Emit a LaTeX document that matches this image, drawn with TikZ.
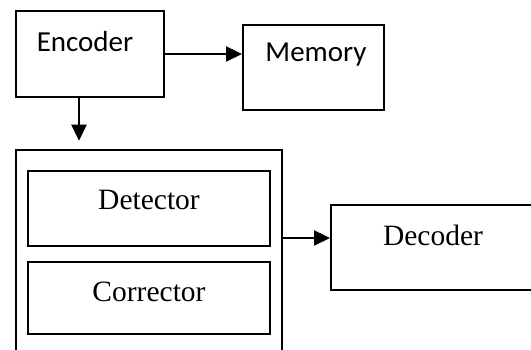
\documentclass[tikz,border=0pt]{standalone}
\usepackage{fontspec}
\setmainfont{Liberation Serif}
\newfontfamily\calib{Carlito}
\usepackage{tikz}
\usetikzlibrary{calc, arrows.meta, positioning}

\begin{document}
\begin{tikzpicture}[x=1pt, y=1pt,
    >={Triangle[length=16pt, width=15pt]},
    box/.style={draw, line width=2pt, inner sep=0pt},
    outbox/.style={draw, line width=2.5pt, inner sep=0pt},
    arr/.style={->, line width=2.3pt},
    sanstxt/.style={font=\calib\fontsize{29}{32}\selectfont},
    seriftxt/.style={font=\fontsize{29.5}{33}\selectfont}]
    % Khung ảnh
    \useasboundingbox (0,0) rectangle (531,350);
    \clip (0,0) rectangle (531,350);

    % Các khối chính
    \node[box, minimum width=148pt, minimum height=86pt] (enc) at (90,296) {};
    \node[box, minimum width=141pt, minimum height=85pt] (mem) at (313.5,282.5) {};
    \node[outbox, minimum width=266pt, minimum height=240pt] (outer) at (149,80) {};
    \node[box, minimum width=242pt, minimum height=75pt] (det) at (149,141.5) {};
    \node[box, minimum width=242pt, minimum height=72pt] (cor) at (149,52) {};
    \node[box, minimum width=240pt, minimum height=85pt] (dec) at (451,102.5) {};

    % Nhãn của các khối
    \node[sanstxt] (enc-t) at ([xshift=-5pt, yshift=12pt]enc.center) {Encoder};
    \node[sanstxt] (mem-t) at ([xshift=2.5pt, yshift=12.5pt]mem.center) {Memory};
    \node[seriftxt] (det-t) at ([yshift=8.5pt]det.center) {Detector};
    \node[seriftxt] (cor-t) at ([yshift=6pt]cor.center) {Corrector};
    \node[seriftxt] (dec-t) at (433,115) {Decoder};

    % Các mũi tên
    \coordinate (dec-in) at ([yshift=9.5pt]dec.west);
    \draw[arr] (enc.east) -- (enc.east -| mem.west);
    \draw[arr, shorten >=8pt] ([xshift=-11pt]enc.south) -- ([xshift=-11pt]enc.south |- outer.north);
    \draw[arr] (outer.east |- dec-in) -- (dec-in);
\end{tikzpicture}
\end{document}
